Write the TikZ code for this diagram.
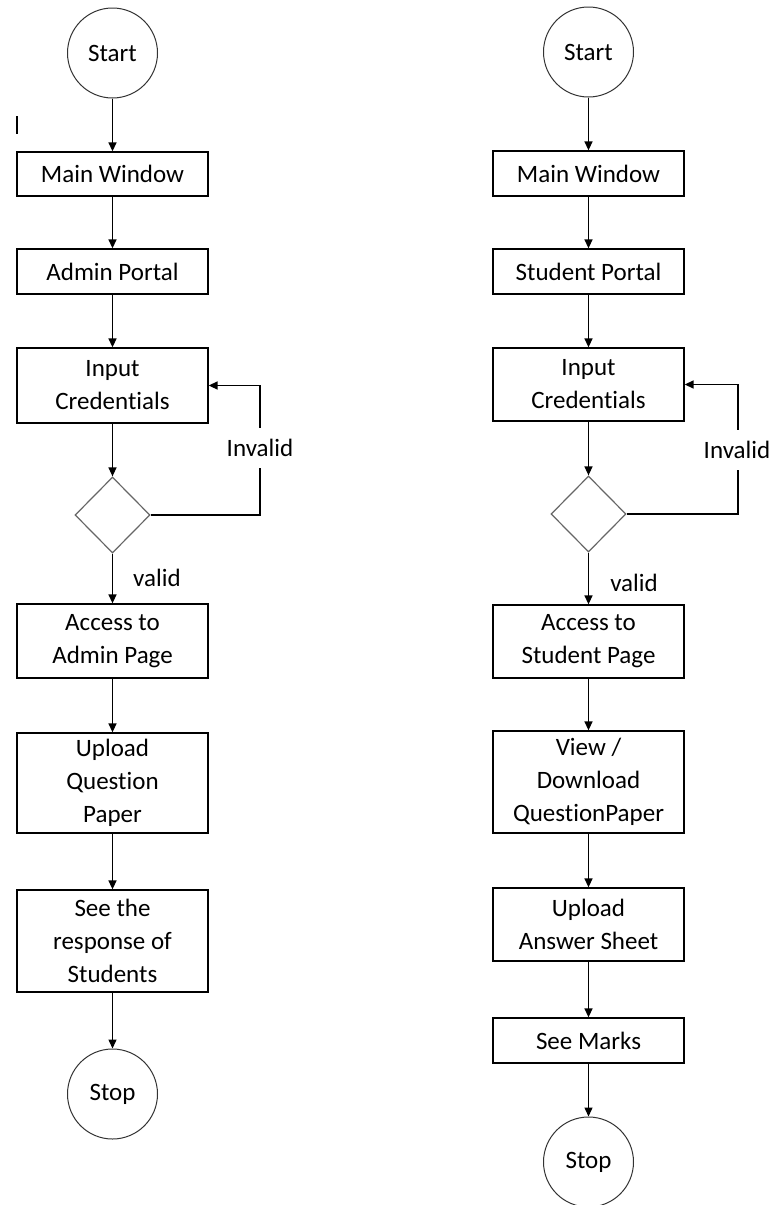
\documentclass[tikz,border=0pt]{standalone}
\usepackage{fontspec}
\setmainfont{Carlito}[Ligatures=NoCommon]
\usetikzlibrary{shapes.geometric,arrows.meta}

\tikzset{
  box/.style={draw, line width=1.3pt, rectangle, minimum width=191pt, inner sep=0pt, align=center},
  terminal/.style={draw=black!80, line width=1pt, circle, minimum size=90pt, inner sep=0pt},
  decision/.style={draw=black!60, line width=1.2pt, diamond, minimum width=75pt, minimum height=76pt, inner sep=0pt},
  flow/.style={line width=1.4pt, -{Triangle[length=9pt,width=8pt]}},
  lbl/.style={inner sep=0pt}
}

\begin{document}
\begin{tikzpicture}[x=1pt, y=-1pt, font=\fontsize{25}{33}\selectfont]
        \useasboundingbox (0,0) rectangle (770,1205);

        % Admin side
        \node[terminal] (startA) at (112.5,53) {Start};
        \node[box, minimum height=44pt] (mainA) at (112.5,174) {Main Window};
        \node[box, minimum height=45pt] (portalA) at (112.5,271.5) {Admin Portal};
        \node[box, minimum height=75pt] (credA) at (112.5,385.5) {Input\\Credentials};
        \node[decision] (checkA) at (112.5,515) {};
        \node[box, minimum height=74pt] (accessA) at (112.5,641) {Access to\\Admin Page};
        \node[box, minimum height=100pt] (uploadA) at (112.5,783) {Upload\\Question\\Paper};
        \node[box, minimum height=102pt] (responseA) at (112.5,941) {See the\\response of\\Students};
        \node[terminal] (stopA) at (112.5,1094) {Stop};

        \draw[flow] (startA) -- (mainA);
        \draw[flow] (mainA) -- (portalA);
        \draw[flow] (portalA) -- (credA);
        \draw[flow] (credA) -- (checkA);
        \draw[flow] (checkA) -- (accessA);
        \draw[flow] (accessA) -- (uploadA);
        \draw[flow] (uploadA) -- (responseA);
        \draw[flow] (responseA) -- (stopA);

        % Invalid loop, admin
        \coordinate (loopA) at (260,515);
        \draw[flow] (checkA.east) -- (loopA) |- (credA.east);
        \node[lbl, fill=white, minimum height=40pt] (invA) at (260,448) {Invalid};
        \node[lbl] (okA) at (157,578) {valid};

        % stray mark
        \draw[line width=2.5pt] (17,116) -- (17,134);

        % Student side
        \node[terminal] (startB) at (588.5,52) {Start};
        \node[box, minimum height=45pt] (mainB) at (588.5,173.5) {Main Window};
        \node[box, minimum height=45pt] (portalB) at (588.5,271.5) {Student Portal};
        \node[box, minimum height=73pt] (credB) at (588.5,384.5) {Input\\Credentials};
        \node[decision] (checkB) at (588.5,514) {};
        \node[box, minimum height=73pt] (accessB) at (588.5,641.5) {Access to\\Student Page};
        \node[box, minimum height=102pt] (viewB) at (588.5,782) {View /\\Download\\QuestionPaper};
        \node[box, minimum height=73pt] (answerB) at (588.5,924.5) {Upload\\Answer Sheet};
        \node[box, minimum height=45pt] (marksB) at (588.5,1040.5) {See Marks};
        \node[terminal] (stopB) at (588.5,1162) {Stop};

        \draw[flow] (startB) -- (mainB);
        \draw[flow] (mainB) -- (portalB);
        \draw[flow] (portalB) -- (credB);
        \draw[flow] (credB) -- (checkB);
        \draw[flow] (checkB) -- (accessB);
        \draw[flow] (accessB) -- (viewB);
        \draw[flow] (viewB) -- (answerB);
        \draw[flow] (answerB) -- (marksB);
        \draw[flow] (marksB) -- (stopB);

        % Invalid loop, student
        \coordinate (loopB) at (738,514);
        \draw[flow] (checkB.east) -- (loopB) |- (credB.east);
        \node[lbl, fill=white, minimum height=40pt] (invB) at (737,450) {Invalid};
        \node[lbl] (okB) at (634,583) {valid};
\end{tikzpicture}
\end{document}
